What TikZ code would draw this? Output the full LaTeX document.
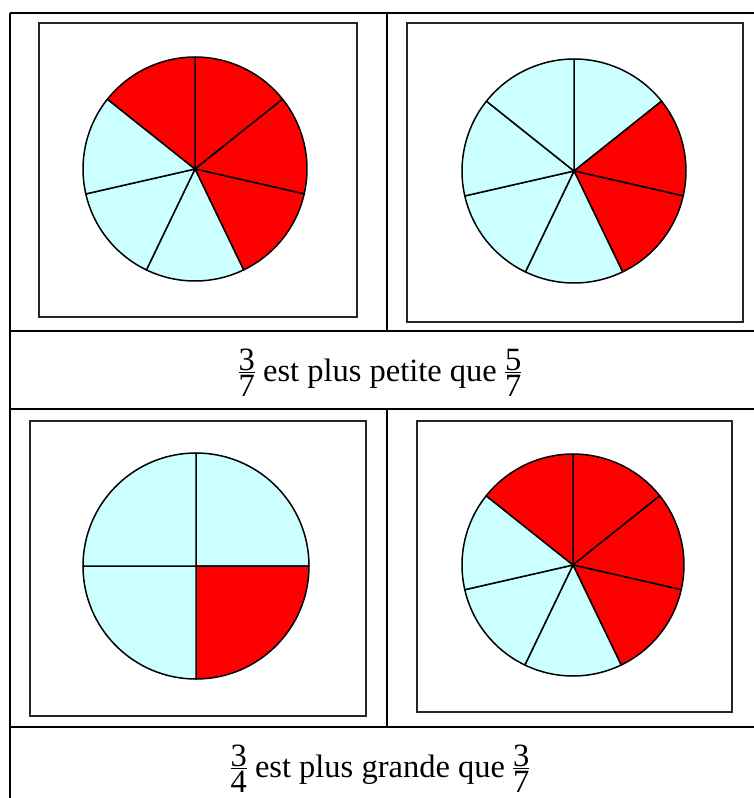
\documentclass[tikz,border=0pt]{standalone}
\usepackage{fontspec}
\setmainfont{Liberation Serif}
\definecolor{pred}{HTML}{FF0000}
\definecolor{pcyan}{HTML}{CCFFFF}
\newcommand{\myfr}[2]{\raisebox{-0.48em}{\vbox{\offinterlineskip\halign{\hfil##\hfil\cr\hbox{#1}\cr\noalign{\kern1.5pt\hrule height1.1pt\kern2pt}\hbox{#2}\cr}}}}
\begin{document}
\begin{tikzpicture}[x=1pt,y=1pt,
  tbl/.style={line width=2.3pt,draw=black},
  framebox/.style={line width=1.9pt,draw=black!85},
  wedge/.style={line width=1.5pt,draw=black,line join=round},
  lbl/.style={font=\fontsize{32.5}{38}\selectfont,inner sep=0pt,anchor=base}]
\useasboundingbox (0,0) rectangle (754,-798);
\begin{scope}
\clip (0,0) rectangle (754,-798);
% table
\draw[tbl] (10,-13) -- (780,-13);
\draw[tbl] (10,-331) -- (780,-331);
\draw[tbl] (10,-409) -- (780,-409);
\draw[tbl] (10,-727) -- (780,-727);
\draw[tbl] (10,-13) -- (10,-820);
\draw[tbl] (387,-13) -- (387,-331);
\draw[tbl] (387,-409) -- (387,-727);
% frames
\draw[framebox] (39,-23) rectangle (357,-317);
\draw[framebox] (407,-23) rectangle (743,-322);
\draw[framebox] (30,-421) rectangle (366,-716);
\draw[framebox] (417,-421) rectangle (732,-712);
% pies
\coordinate (c1) at (195,-169);
\coordinate (c2) at (574,-171);
\coordinate (c3) at (196,-566);
\coordinate (c4) at (573,-565);
\foreach \i/\col in {0/pred,1/pred,2/pred,3/pcyan,4/pcyan,5/pcyan,6/pred}
  \filldraw[wedge,fill=\col] (c1) -- ++({90-\i*360/7}:112) arc[start angle={90-\i*360/7}, delta angle={-360/7}, radius=112] -- cycle;
\foreach \i/\col in {0/pcyan,1/pred,2/pred,3/pcyan,4/pcyan,5/pcyan,6/pcyan}
  \filldraw[wedge,fill=\col] (c2) -- ++({90-\i*360/7}:112) arc[start angle={90-\i*360/7}, delta angle={-360/7}, radius=112] -- cycle;
\foreach \i/\col in {0/pcyan,1/pred,2/pcyan,3/pcyan}
  \filldraw[wedge,fill=\col] (c3) -- ++({90-\i*90}:113) arc[start angle={90-\i*90}, delta angle=-90, radius=113] -- cycle;
\foreach \i/\col in {0/pred,1/pred,2/pred,3/pcyan,4/pcyan,5/pcyan,6/pred}
  \filldraw[wedge,fill=\col] (c4) -- ++({90-\i*360/7}:111) arc[start angle={90-\i*360/7}, delta angle={-360/7}, radius=111] -- cycle;
\end{scope}
% labels
\node[lbl] (t1) at (380,-381) {\myfr{3}{7} est plus petite que \myfr{5}{7}};
\node[lbl] (t2) at (380,-777) {\myfr{3}{4} est plus grande que \myfr{3}{7}};
\end{tikzpicture}
\end{document}
